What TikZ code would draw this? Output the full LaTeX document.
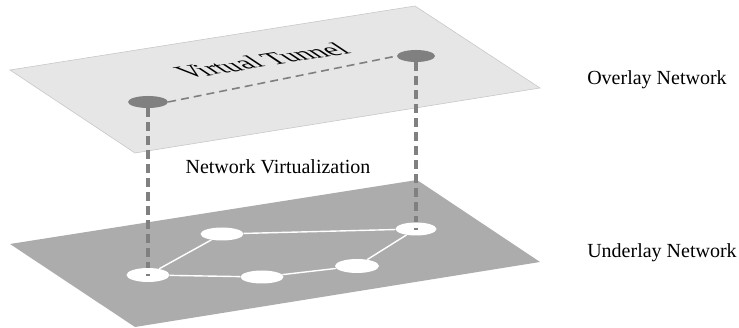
\documentclass[tikz,border=0pt]{standalone}
\usepackage{fontspec}
\setmainfont{Liberation Serif}
\usetikzlibrary{shapes.geometric}
\definecolor{topplane}{RGB}{230,230,230}
\definecolor{topedge}{RGB}{200,200,200}
\definecolor{botplane}{RGB}{172,172,172}
\definecolor{vnode}{RGB}{128,128,128}
\begin{document}
\begin{tikzpicture}[x=1pt,y=1pt,
  vnodestyle/.style={ellipse,fill=vnode,draw=none,inner sep=0pt,minimum width=40pt,minimum height=12pt},
  pnodestyle/.style={ellipse,fill=white,draw=none,inner sep=0pt,minimum width=43pt,minimum height=14pt},
  plink/.style={draw=white,line width=1.4pt},
  tunnel/.style={draw=vnode,line width=1.6pt,dash pattern=on 8pt off 5pt},
  vlink/.style={draw=vnode,line width=3.2pt,dash pattern=on 9pt off 5pt},
  lbl/.style={font=\fontsize{20}{24}\selectfont,inner sep=0pt}]
\useasboundingbox (0,0) rectangle (739,328);
% planes
\fill[topplane,draw=topedge,line width=0.6pt] (10,258) -- (415,322) -- (540,240) -- (135,175) -- cycle;
\fill[botplane] (10,84) -- (417,148) -- (540,66) -- (135,1) -- cycle;
% tunnel text in the upper plane
\begin{scope}[shift={(270,262)},cm={1.43*0.988,1.43*0.156,1.43*(-0.833),1.43*0.553,(0,0)}]
  \node[lbl,transform shape,anchor=base] (vt) at (0,0) {Virtual Tunnel};
\end{scope}
% overlay nodes
\node[vnodestyle] (ol) at (148,226) {};
\node[vnodestyle,minimum width=38pt] (or) at (416,272) {};
\draw[tunnel] (ol.east) -- (or.west);
% underlay nodes
\node[pnodestyle] (a) at (148,53) {};
\node[pnodestyle,minimum height=13pt] (b) at (222,94) {};
\node[pnodestyle,minimum width=41pt,minimum height=13pt] (c) at (416,99) {};
\node[pnodestyle,minimum height=13pt] (d) at (262,51) {};
\node[pnodestyle,minimum width=44pt] (e) at (357,62) {};
\draw[plink] (a) -- (b);
\draw[plink] (b) -- (c);
\draw[plink] (c) -- (e);
\draw[plink] (e) -- (d);
\draw[plink] (d) -- (a);
% vertical virtualization links
\draw[vlink] (ol.south) -- (a.north);
\draw[vlink] (or.south) -- (c.north);
\draw[vnode,line width=1.2pt] ([xshift=-2pt]a.center) -- ([xshift=2pt]a.center);
\draw[vnode,line width=1.2pt] ([xshift=-2pt]c.center) -- ([xshift=2pt]c.center);
% labels
\node[lbl] (nv) at (278,161) {Network Virtualization};
\node[lbl] (on) at (657,248) {Overlay Network};
\node[lbl] (un) at (662,75) {Underlay Network};
\end{tikzpicture}
\end{document}
